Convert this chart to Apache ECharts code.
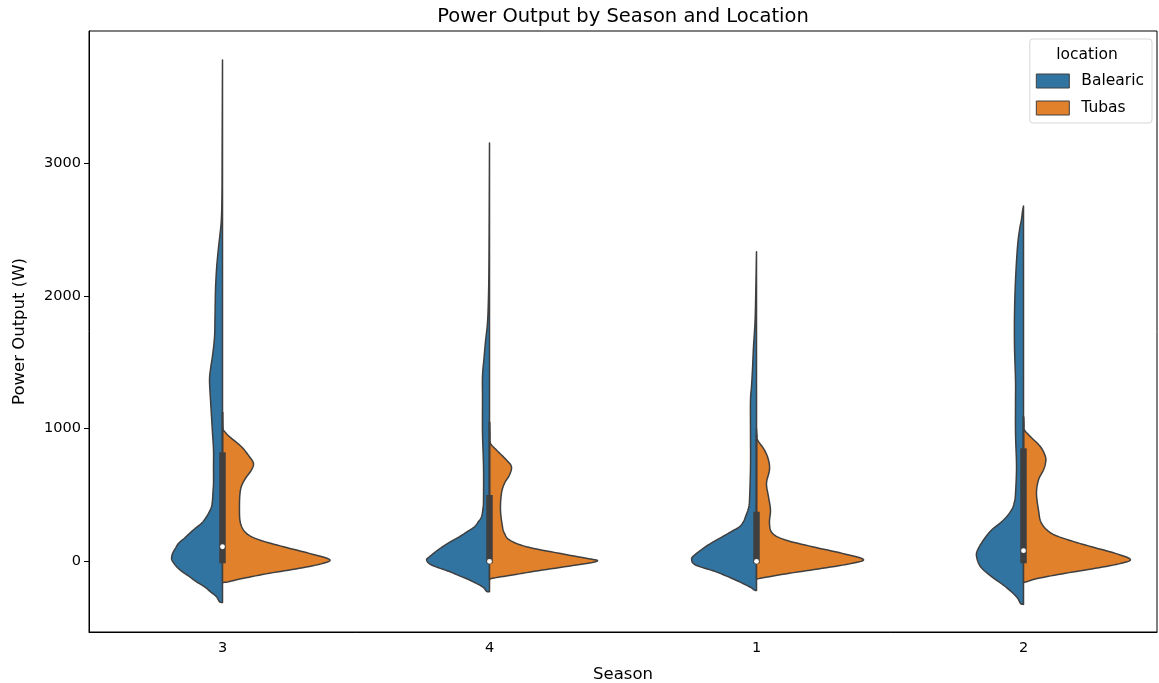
<!DOCTYPE html>
<html>
<head>
<meta charset="utf-8">
<script src="https://cdn.jsdelivr.net/npm/echarts@6/dist/echarts.min.js"></script>
<style>
html,body{margin:0;padding:0;background:#fff;}
#chart{width:1159px;height:683px;}
</style>
</head>
<body>
<div id="chart"></div>
<script>
// ---- data ----
const seasons = ['3', '4', '1', '2'];
const locations = ['Balearic', 'Tubas'];
const yTicks = [0, 1000, 2000, 3000];

// KDE profiles: [power value (W), relative density]
const balearicS3 = [[-310,0],[-305,3],[-267,6],[-230,12],[-192,18],[-155,26],[-116,33],[-80,40],[-41,46],[0,50],[23,51],[60,50],[100,47],[136,44],[175,38],[211,33],[250,27],[287,21],[325,17],[362,14],[412,11],[462,10],[525,9.5],[588,9],[713,9],[839,9],[965,10],[1091,11],[1216,12],[1364,13],[1450,12],[1550,10],[1690,8],[1850,7.5],[2050,7],[2200,6],[2290,5],[2400,3.5],[2500,2],[2600,1],[2800,0.5],[3200,0.3],[3780,0]];
const balearicS4 = [[-229,0],[-226,3],[-192,7],[-141,20],[-110,30],[-78,40],[-28,58],[10,63],[35,60],[72,54],[110,47],[148,39],[186,30],[225,22],[261,15],[300,11],[336,8],[400,6.5],[462,6],[713,6],[965,7],[1216,7],[1398,7],[1530,5.5],[1658,4],[1800,2],[2000,1],[2300,0.5],[3154,0]];
const balearicS1 = [[-220,0],[-217,2],[-192,7],[-141,21],[-78,41],[-28,61],[15,65],[48,62],[110,51],[148,43],[186,34],[225,25],[261,17],[300,13],[336,11],[400,8],[462,7],[713,6],[965,6],[1216,6],[1317,5],[1450,4],[1618,3],[1800,1.5],[2000,0.8],[2335,0]];
const balearicS2 = [[-325,0],[-317,3],[-267,7],[-192,18],[-116,32],[-41,43],[35,47],[85,46],[161,40],[236,32],[311,20],[387,12],[450,9],[513,8],[713,7],[965,8],[1216,8],[1367,8],[1619,9],[1870,9],[2121,8],[2372,6],[2498,4],[2580,2],[2640,1],[2680,0]];

const tubasS3 = [[-160,0],[-154,6],[-128,21],[-90,47],[-53,77],[-15,101],[15,107],[60,87],[110,61],[161,37],[211,24],[287,18],[412,17],[538,18],[613,22],[689,29],[739,31],[789,27],[864,19],[940,7],[980,2],[1000,0.5],[1125,0]];
const tubasS4 = [[-140,0],[-128,3],[-103,23],[-66,53],[-28,87],[2,108],[23,97],[60,70],[110,37],[161,20],[211,15],[261,13],[387,11],[513,12],[588,15],[651,20],[713,22],[764,17],[839,7],[890,1],[950,0.4],[1050,0]];
const tubasS1 = [[-136,0],[-128,4],[-90,33],[-53,66],[-15,96],[15,107],[60,86],[110,56],[161,29],[211,16],[287,13],[387,14],[487,12],[588,10],[689,13],[764,12],[839,8],[915,1],[950,0.4],[1000,0]];
const tubasS2 = [[-160,0],[-154,3],[-128,15],[-90,42],[-53,72],[-15,98],[15,107],[60,92],[110,68],[161,45],[211,28],[287,18],[387,15],[513,13],[613,15],[689,20],[739,22],[789,22],[864,17],[940,7],[990,1],[1030,0.4],[1091,0]];

// inner box statistics per season (same order as seasons)
const boxQ1 = [0, 0, 0, 0];
const boxQ3 = [822, 500, 374, 852];
const boxMedian = [110, 0, 0, 80];
const whiskerLow = [0, 0, 0, 0];
const whiskerHigh = [1125, 1050, 950, 1090];

// ---- drawing ----
const balearicShapes = [balearicS3, balearicS4, balearicS1, balearicS2];
const tubasShapes = [tubasS3, tubasS4, tubasS1, tubasS2];
const COLORS = {Balearic: '#3274a1', Tubas: '#e1812c'};
const EDGE = '#3f3f3f';
const MAX_HALF = 0.4;       // half-width of the widest violin, in category bands
const MAX_DENS = 107;
const FONT = 'DejaVu Sans';

function catmull(pts, steps) {
  const out = [];
  for (let i = 0; i < pts.length - 1; i++) {
    const p0 = pts[Math.max(i - 1, 0)], p1 = pts[i], p2 = pts[i + 1], p3 = pts[Math.min(i + 2, pts.length - 1)];
    for (let s = 0; s < steps; s++) {
      const t = s / steps, t2 = t * t, t3 = t2 * t;
      const f = (a, b, c, d) => 0.5 * ((2 * b) + (-a + c) * t + (2 * a - 5 * b + 4 * c - d) * t2 + (-a + 3 * b - 3 * c + d) * t3);
      out.push([f(p0[0], p1[0], p2[0], p3[0]), f(p0[1], p1[1], p2[1], p3[1])]);
    }
  }
  out.push(pts[pts.length - 1]);
  return out;
}

function violinRenderer(shapes, side, color) {
  return function (params, api) {
    const ci = api.value(0);
    const prof = shapes[ci];
    const band = api.size([1, 0])[0];
    const cx = api.coord([ci, 0])[0];
    const raw = prof.map(function (p) {
      const y = api.coord([ci, p[0]])[1];
      return [cx + side * p[1] / MAX_DENS * MAX_HALF * band, y];
    });
    const sm = catmull(raw, 8).map(function (p) {
      const x = side < 0 ? Math.min(p[0], cx) : Math.max(p[0], cx);
      return [x, p[1]];
    });
    const points = [[cx, raw[0][1]]].concat(sm).concat([[cx, raw[raw.length - 1][1]]]);
    return {
      type: 'polygon',
      shape: {points: points},
      style: {fill: color, stroke: EDGE, lineWidth: 1.5, lineJoin: 'round'}
    };
  };
}

function boxRenderer(params, api) {
  const ci = api.value(0);
  const pLo = api.coord([ci, api.value(4)]);
  const pHi = api.coord([ci, api.value(5)]);
  const pQ1 = api.coord([ci, api.value(1)]);
  const pQ3 = api.coord([ci, api.value(2)]);
  const pMed = api.coord([ci, api.value(3)]);
  const bw = 6.5;
  return {
    type: 'group',
    children: [
      {type: 'line', shape: {x1: pLo[0], y1: pLo[1], x2: pHi[0], y2: pHi[1]}, style: {stroke: EDGE, lineWidth: 1.8}},
      {type: 'rect', shape: {x: pQ3[0] - bw / 2, y: pQ3[1], width: bw, height: pQ1[1] - pQ3[1] + 2}, style: {fill: EDGE}},
      {type: 'circle', shape: {cx: pMed[0], cy: pMed[1], r: 2.4}, style: {fill: '#ffffff'}}
    ]
  };
}

const catData = seasons.map(function (s, i) { return [i]; });
const boxData = seasons.map(function (s, i) { return [i, boxQ1[i], boxQ3[i], boxMedian[i], whiskerLow[i], whiskerHigh[i]]; });

const chart = echarts.init(document.getElementById('chart'), null, {renderer: 'canvas'});
chart.setOption({
  animation: false,
  backgroundColor: '#ffffff',
  textStyle: {fontFamily: FONT},
  title: {
    text: 'Power Output by Season and Location',
    left: 618, top: 2, textAlign: 'center',
    textStyle: {fontFamily: FONT, fontSize: 19.5, fontWeight: 'normal', color: '#000'}
  },
  grid: {left: 89, right: 2, top: 31, bottom: 51, show: true, borderColor: '#000', borderWidth: 1,
    backgroundColor: 'transparent', containLabel: false, outerBoundsMode: 'none'},
  legend: {
    data: locations,
    orient: 'vertical', right: 7, top: 39,
    itemWidth: 33, itemHeight: 14, itemGap: 11,
    padding: [34, 8, 7, 6],
    icon: 'rect',
    borderColor: '#d6d6d6', borderWidth: 1, borderRadius: 3,
    backgroundColor: 'rgba(255,255,255,0.8)',
    itemStyle: {borderColor: EDGE, borderWidth: 1},
    textStyle: {fontFamily: FONT, fontSize: 15.5, color: '#000', padding: [0, 0, 0, 7]}
  },
  graphic: [{
    type: 'text', x: 1087, y: 55, z: 100,
    style: {text: 'location', font: '15.5px "DejaVu Sans"', fill: '#000', textAlign: 'center', textVerticalAlign: 'middle'}
  }],
  xAxis: {
    type: 'category', data: seasons,
    name: 'Season', nameLocation: 'middle', nameGap: 34,
    nameTextStyle: {fontFamily: FONT, fontSize: 16.5, color: '#000'},
    axisLine: {onZero: false, lineStyle: {color: '#000', width: 1}},
    axisTick: {alignWithLabel: true, length: 5, lineStyle: {color: '#000'}},
    axisLabel: {fontFamily: FONT, fontSize: 14.5, color: '#000', margin: 9},
    splitLine: {show: false}
  },
  yAxis: {
    type: 'value', min: -533, max: 3999,
    name: 'Power Output (W)', nameLocation: 'middle', nameGap: 61, nameRotate: 90,
    nameTextStyle: {fontFamily: FONT, fontSize: 16.5, color: '#000'},
    axisLine: {show: true, onZero: false, lineStyle: {color: '#000', width: 1}},
    axisTick: {show: true, length: 5, lineStyle: {color: '#000'}, customValues: yTicks},
    axisLabel: {fontFamily: FONT, fontSize: 14.5, color: '#000', margin: 8, customValues: yTicks,
      formatter: function (v) { return String(v); }},
    splitLine: {show: false}
  },
  series: [
    {name: 'Balearic', type: 'custom', data: catData, encode: {x: 0}, renderItem: violinRenderer(balearicShapes, -1, COLORS.Balearic),
     itemStyle: {color: COLORS.Balearic, borderColor: EDGE}, z: 2},
    {name: 'Tubas', type: 'custom', data: catData, encode: {x: 0}, renderItem: violinRenderer(tubasShapes, 1, COLORS.Tubas),
     itemStyle: {color: COLORS.Tubas, borderColor: EDGE}, z: 2},
    {name: 'box', type: 'custom', data: boxData, encode: {x: 0, y: [1, 2]}, renderItem: boxRenderer, z: 3}
  ]
});
</script>
</body>
</html>
